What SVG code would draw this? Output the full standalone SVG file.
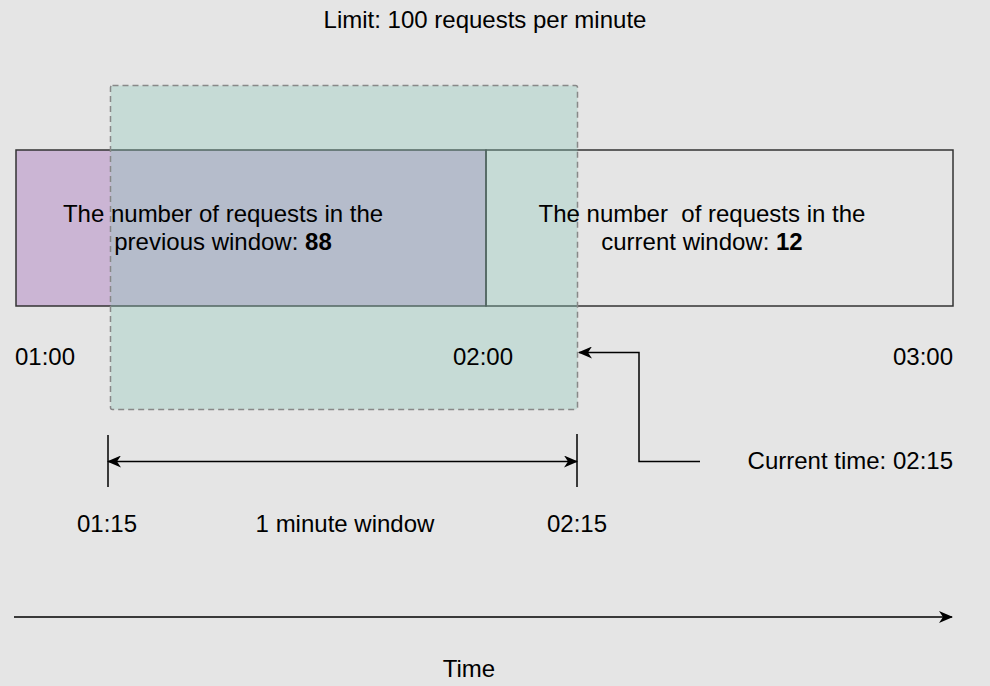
<svg xmlns="http://www.w3.org/2000/svg" width="990" height="686" viewBox="0 0 990 686">
<style>
  text { font-family: "Liberation Sans", Arial, Helvetica, sans-serif; font-size: 24px; fill: #000; }
  .c { text-anchor: middle; }
  .e { text-anchor: end; }
  .ln { stroke: #000; stroke-width: 1.5; fill: none; }
  .box { stroke: #333; stroke-width: 1.5; }
</style>
<defs>
  <marker id="arr" viewBox="0 0 14 12" refX="13" refY="6" markerWidth="14" markerHeight="12" markerUnits="userSpaceOnUse" orient="auto-start-reverse">
    <path d="M0,0 L14,6 L0,12 L4,6 Z" fill="#000"/>
  </marker>
</defs>
<rect x="0" y="0" width="990" height="686" fill="#e5e5e5"/>
<text id="limit" class="c" x="485" y="28">Limit: 100 requests per minute</text>
<g id="previous-window">
  <rect class="box" x="16" y="150" width="470" height="156" fill="#cbb5d4"/>
</g>
<g id="current-window">
  <rect class="box" x="486" y="150" width="467" height="156" fill="none"/>
</g>
<g id="sliding-window">
  <rect x="110.5" y="85.5" width="467" height="324" rx="2" fill="#8cc8ba" fill-opacity="0.35" stroke="#888" stroke-width="1.5" stroke-dasharray="6 4"/>
</g>
<g id="previous-label">
  <text class="c" x="223" y="222">The number of requests in the</text>
  <text class="c" x="223" y="250">previous window: <tspan font-weight="bold">88</tspan></text>
</g>
<g id="current-label">
  <text class="c" x="702" y="222" xml:space="preserve" style="white-space:pre">The number  of requests in the</text>
  <text class="c" x="702" y="250">current window: <tspan font-weight="bold">12</tspan></text>
</g>
<g id="time-labels">
  <text x="15" y="365">01:00</text>
  <text x="453" y="365">02:00</text>
  <text class="e" x="953" y="365">03:00</text>
  <text class="c" x="107" y="532">01:15</text>
  <text class="c" x="345" y="532">1 minute window</text>
  <text class="c" x="577" y="532">02:15</text>
  <text class="e" x="953" y="469">Current time: 02:15</text>
  <text class="c" x="469" y="677">Time</text>
</g>
<g id="connectors">
  <path class="ln" d="M700,461.5 L639,461.5 L639,352.5 L579,352.5" marker-end="url(#arr)"/>
  <line class="ln" x1="108" y1="435" x2="108" y2="487"/>
  <line class="ln" x1="577" y1="434" x2="577" y2="487"/>
  <line class="ln" x1="108" y1="461.5" x2="577" y2="461.5" marker-start="url(#arr)" marker-end="url(#arr)"/>
  <line class="ln" x1="14" y1="617" x2="952" y2="617" marker-end="url(#arr)"/>
</g>
</svg>
